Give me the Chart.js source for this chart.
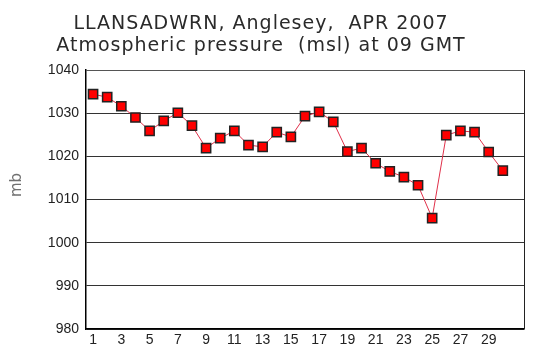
<!DOCTYPE html>
<html><head><meta charset="utf-8">
<script src="https://cdn.jsdelivr.net/npm/chart.js@4"></script>
<style>html,body{margin:0;padding:0;background:#fff;}#wrap{width:538px;height:363px;}</style>
</head><body><div id="wrap"><canvas id="c" width="538" height="363"></canvas></div>
<script>
const titleLines = ["LLANSADWRN, Anglesey,  APR 2007", "Atmospheric pressure  (msl) at 09 GMT"];
const yTitle = "mb";
const days = [1,2,3,4,5,6,7,8,9,10,11,12,13,14,15,16,17,18,19,20,21,22,23,24,25,26,27,28,29,30];
const pressure = [1034.4,1033.7,1031.6,1029.0,1025.9,1028.2,1030.1,1027.1,1021.9,1024.2,1025.9,1022.6,1022.2,1025.6,1024.5,1029.3,1030.3,1028.0,1021.1,1021.9,1018.4,1016.5,1015.2,1013.3,1005.7,1024.9,1025.9,1025.6,1021.0,1016.7];
const xTickLabels = [1,3,5,7,9,11,13,15,17,19,21,23,25,27,29];
const yTicks = [980,990,1000,1010,1020,1030,1040];

const decor = {
  id: 'decor',
  afterDraw(chart) {
    const {ctx, chartArea: a} = chart;
    ctx.save();
    ctx.strokeStyle = '#555';
    ctx.lineWidth = 1;
    ctx.beginPath();
    ctx.moveTo(a.left, a.top + 0.5); ctx.lineTo(a.right + 0.5, a.top + 0.5);
    ctx.stroke();
    ctx.strokeStyle = '#222';
    ctx.beginPath();
    ctx.moveTo(a.right + 0.5, a.top); ctx.lineTo(a.right + 0.5, a.bottom);
    ctx.stroke();
    ctx.fillStyle = '#2a2a2a';
    ctx.font = '19px "DejaVu Sans"';
    ctx.letterSpacing = '1px';
    ctx.textAlign = 'center';
    ctx.textBaseline = 'alphabetic';
    ctx.fillText(titleLines[0], 261, 29);
    ctx.fillText(titleLines[1], 261, 51);
    ctx.letterSpacing = '0px';
    ctx.translate(17, 185);
    ctx.rotate(-Math.PI / 2);
    ctx.fillStyle = '#707070';
    ctx.font = '15px "DejaVu Sans"';
    ctx.textBaseline = 'middle';
    ctx.fillText(yTitle, 0, 0);
    ctx.restore();
  }
};

new Chart(document.getElementById('c'), {
  type: 'line',
  data: {
    datasets: [{
      data: days.map((d, i) => ({x: d, y: pressure[i]})),
      borderColor: '#e0304a',
      borderWidth: 1,
      pointStyle: 'rect',
      pointRadius: 6.5,
      pointBackgroundColor: '#ff0000',
      pointBorderColor: '#222',
      pointBorderWidth: 1.5,
      tension: 0
    }]
  },
  options: {
    responsive: false,
    animation: false,
    events: [],
    layout: {padding: {left: 0, right: 14, top: 70, bottom: 0}},
    plugins: {legend: {display: false}, title: {display: false}, tooltip: {enabled: false}},
    scales: {
      x: {
        type: 'linear', min: 0.5, max: 31.5,
        afterBuildTicks: s => { s.ticks = xTickLabels.map(v => ({value: v})); },
        ticks: {color: '#222', font: {family: 'Liberation Sans', size: 14}, padding: 3, maxRotation: 0, autoSkip: false, callback: v => String(v)},
        grid: {display: false, drawTicks: false},
        border: {display: true, color: '#000', width: 1.5},
        afterFit: s => { s.height = 34; }
      },
      y: {
        min: 980, max: 1040,
        afterBuildTicks: s => { s.ticks = yTicks.map(v => ({value: v})); },
        ticks: {color: '#222', font: {family: 'Liberation Sans', size: 14}, padding: 7, callback: v => String(v)},
        grid: {color: '#333', lineWidth: 1, drawTicks: false},
        border: {display: true, color: '#000', width: 1.5},
        afterFit: s => { s.width = 86; }
      }
    }
  },
  plugins: [decor]
});
</script></body></html>
